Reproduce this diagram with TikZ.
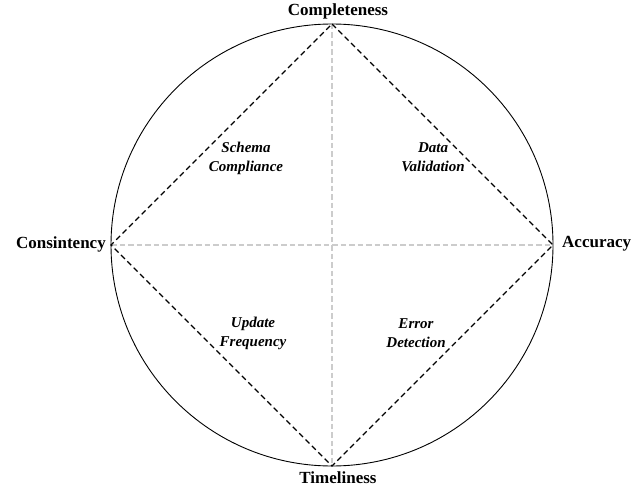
\documentclass[tikz,border=0pt]{standalone}
\usepackage{fontspec}
\setmainfont{Liberation Serif}
\begin{document}
\begin{tikzpicture}[x=1pt,y=-1pt,
  corner/.style={font=\bfseries\fontsize{17}{19}\selectfont, inner sep=0pt},
  area/.style={font=\bfseries\itshape\fontsize{15}{19}\selectfont, align=center},
  edge/.style={black, line width=1.2pt, dash pattern=on 5.5pt off 3.5pt},
  axis/.style={gray!40, line width=1.4pt, dash pattern=on 5.5pt off 3pt}]
\useasboundingbox (0,0) rectangle (644,489);
\coordinate (c) at (332,245);
\draw[line width=0.9pt] (c) circle [radius=221];
\coordinate (top) at (332,24);
\coordinate (bot) at (332,466);
\coordinate (lft) at (111,245);
\coordinate (rgt) at (553,245);
% axes
\draw[axis] (top) -- (bot);
\draw[axis] (lft) -- (rgt);
% diamond
\draw[edge] (top) -- (rgt) -- (bot) -- (lft) -- cycle;
% vertex labels
\node[corner] (ncomp) at (338,11) {Completeness};
\node[corner, anchor=east] (ncons) at (106,244) {Consintency};
\node[corner, anchor=west] (nacc) at (562,244) {Accuracy};
\node[corner] (ntime) at (338,478) {Timeliness};
% quadrant labels
\node[area] (q1) at (246,158) {Schema\\Compliance};
\node[area] (q2) at (433,157) {Data\\Validation};
\node[area] (q3) at (253,333) {Update\\Frequency};
\node[area] (q4) at (416,333) {Error\\Detection};
\end{tikzpicture}
\end{document}
